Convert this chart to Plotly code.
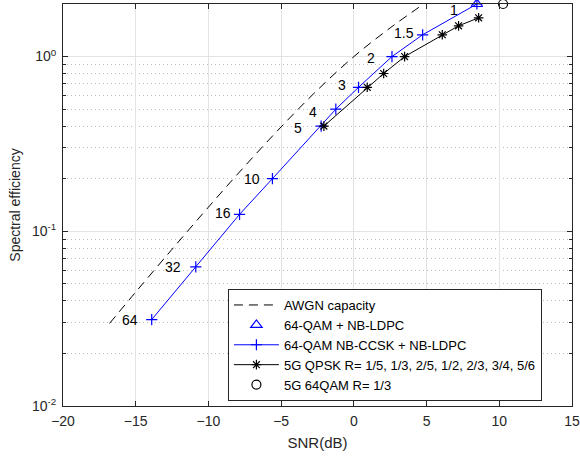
import math
import plotly.graph_objects as go

# ---- data ----
awgn_snr = [-16.8, -15.0, -12.5, -10.0, -7.5, -5.0, -2.5, 0.0, 2.5, 4.8]
awgn_se = [0.0297, 0.0449, 0.0789, 0.1375, 0.236, 0.396, 0.644, 1.0, 1.46, 2.0]

qam_ldpc_snr = [8.46]
qam_ldpc_se = [2.0]

ccsk_snr = [-13.9, -10.87, -7.86, -5.6, -2.25, -1.24, 0.32, 2.62, 4.73, 8.46]
ccsk_se = [0.03125, 0.0625, 0.125, 0.2, 0.4, 0.5, 0.667, 1.0, 1.333, 2.0]
ccsk_labels = ["64", "32", "16", "10", "5", "4", "3", "2", "1.5", "1"]

qpsk_snr = [-2.06, 0.92, 2.05, 3.49, 6.08, 7.2, 8.58]
qpsk_se = [0.4, 0.667, 0.8, 1.0, 1.333, 1.5, 1.667]

qam64_snr = [10.26]
qam64_se = [2.0]

x_ticks = [-20, -15, -10, -5, 0, 5, 10, 15]
y_ticks = [0.01, 0.1, 1.0]
y_ticktext = ["10<sup>-2</sup>", "10<sup>-1</sup>", "10<sup>0</sup>"]
y_minor = [m * d for d in (0.01, 0.1) for m in range(2, 10)]

# label placement offsets (pixels) for the spreading-factor labels
label_dx = [-12, -13, -7, -10, -17, -17, -11, -15, -7, -17]
label_dy = [0, 0, 1, 0, -2, -3, 2, -1, 2, -6]

FONT = "Liberation Sans, Arial, sans-serif"
AX = "#262626"

fig = go.Figure()

fig.add_trace(go.Scatter(
    x=awgn_snr, y=awgn_se, mode="lines", name="AWGN capacity",
    line=dict(color="black", width=1, dash="9px,6px"), line_shape="spline"))

fig.add_trace(go.Scatter(
    x=qam_ldpc_snr, y=qam_ldpc_se, mode="markers", name="64-QAM + NB-LDPC",
    marker=dict(symbol="triangle-up-open", size=10, color="blue",
                line=dict(width=1.2, color="blue")), cliponaxis=False))

fig.add_trace(go.Scatter(
    x=ccsk_snr, y=ccsk_se, mode="lines+markers", name="64-QAM NB-CCSK + NB-LDPC",
    line=dict(color="blue", width=1),
    marker=dict(symbol="cross-thin-open", size=8, color="blue",
                line=dict(width=1.2, color="blue")), cliponaxis=False))

fig.add_trace(go.Scatter(
    x=qpsk_snr, y=qpsk_se, mode="lines+markers",
    name="5G QPSK R= 1/5, 1/3, 2/5, 1/2, 2/3, 3/4, 5/6",
    line=dict(color="black", width=1),
    marker=dict(symbol="asterisk-open", size=8, color="black",
                line=dict(width=1.2, color="black")), cliponaxis=False))

fig.add_trace(go.Scatter(
    x=qam64_snr, y=qam64_se, mode="markers", name="5G 64QAM R= 1/3",
    marker=dict(symbol="circle-open", size=9, color="black",
                line=dict(width=1.2, color="black")), cliponaxis=False))

for xv, yv, txt, dx, dy in zip(ccsk_snr, ccsk_se, ccsk_labels, label_dx, label_dy):
    fig.add_annotation(x=xv, y=math.log10(yv), xref="x", yref="y", text=txt,
                       showarrow=False, xanchor="right", yanchor="middle",
                       xshift=dx, yshift=dy,
                       font=dict(family=FONT, size=14, color="black"))

fig.update_layout(
    width=580, height=457,
    margin=dict(l=63, r=8, t=4, b=51),
    paper_bgcolor="white", plot_bgcolor="white",
    font=dict(family=FONT, size=14, color=AX),
    showlegend=True,
    legend=dict(x=0.324, y=0.291, xanchor="left", yanchor="top",
                bgcolor="white", bordercolor=AX, borderwidth=1,
                font=dict(family=FONT, size=13, color="black"),
                itemwidth=45, tracegroupgap=0),
)

fig.update_xaxes(
    range=[-20, 15], tickvals=x_ticks, ticks="inside", ticklen=5,
    tickcolor=AX, showline=True, linecolor=AX, linewidth=1,
    mirror="ticks", showgrid=True, gridcolor="#e3e3e3", gridwidth=1,
    zeroline=False, automargin=False, ticklabelstandoff=2,
    tickfont=dict(size=14, color=AX),
    title=dict(text="SNR(dB)", font=dict(size=15, color=AX), standoff=9))

fig.update_yaxes(
    type="log", range=[-2, 0.30103], tickvals=y_ticks, ticktext=y_ticktext,
    ticks="inside", ticklen=5, tickcolor=AX,
    showline=True, linecolor=AX, linewidth=1, mirror="ticks",
    showgrid=True, gridcolor="#e3e3e3", gridwidth=1, zeroline=False,
    automargin=False, ticklabelstandoff=3,
    tickfont=dict(size=14, color=AX),
    minor=dict(tickvals=y_minor, ticks="inside", ticklen=3, tickcolor=AX,
               showgrid=True, gridcolor="#bdbdbd", griddash="1px,3px", gridwidth=1),
    title=dict(text="Spectral efficiency", font=dict(size=14, color=AX),
               standoff=8))

fig.write_html("out.html",
               config={"displayModeBar": False},
               post_script="document.body.style.margin='0';"
                           "document.body.style.overflow='hidden';")
